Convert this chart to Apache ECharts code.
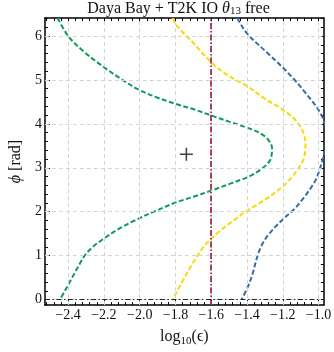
<!DOCTYPE html>
<html>
<head>
<meta charset="utf-8">
<script src="https://cdn.jsdelivr.net/npm/echarts@6/dist/echarts.min.js"></script>
<style>
  html, body { margin: 0; padding: 0; background: #fff; }
  #chart { width: 334px; height: 352px; }
</style>
</head>
<body>
<div id="chart"></div>
<script>
// axis ranges (Mathematica style padding around [-2.5,-1] x [0,2pi])
const xRange = [-2.53, -0.97];
const yRange = [-0.1257, 6.409];

// tick labels
const xTicks = [-2.4, -2.2, -2.0, -1.8, -1.6, -1.4, -1.2, -1.0];
const yTicks = [0, 1, 2, 3, 4, 5, 6];

// reference lines
const epsRef = -1.6;
const phiRef = 0;

// best fit point
const bestFit = [[-1.739, 3.306]];

// contour curves [log10(eps), phi]
const greenCurve = [
  [-2.459, 6.41], [-2.400, 6.00], [-2.314, 5.65], [-2.207, 5.31], [-2.100, 5.01],
  [-2.011, 4.79], [-1.903, 4.60], [-1.796, 4.45], [-1.689, 4.32], [-1.600, 4.19],
  [-1.493, 4.04], [-1.385, 3.89], [-1.323, 3.78], [-1.280, 3.63], [-1.260, 3.45],
  [-1.262, 3.30], [-1.274, 3.15], [-1.314, 2.99], [-1.385, 2.81], [-1.493, 2.64],
  [-1.600, 2.48], [-1.700, 2.34], [-1.805, 2.20], [-1.921, 2.00], [-2.028, 1.80],
  [-2.121, 1.60], [-2.196, 1.40], [-2.262, 1.20], [-2.308, 1.00], [-2.337, 0.80],
  [-2.364, 0.60], [-2.391, 0.40], [-2.418, 0.20], [-2.446, 0.0]
];
const yellowCurve = [
  [-1.814, 6.41], [-1.796, 6.25], [-1.707, 5.87], [-1.600, 5.40], [-1.502, 5.09],
  [-1.400, 4.86], [-1.296, 4.56], [-1.207, 4.34], [-1.127, 4.08], [-1.085, 3.80],
  [-1.073, 3.52], [-1.082, 3.22], [-1.110, 3.00], [-1.150, 2.78], [-1.198, 2.58],
  [-1.296, 2.28], [-1.400, 2.02], [-1.475, 1.80], [-1.540, 1.60], [-1.596, 1.40],
  [-1.643, 1.20], [-1.683, 0.96], [-1.719, 0.72], [-1.752, 0.48], [-1.784, 0.24],
  [-1.814, 0.0]
];
const blueCurve = [
  [-1.452, 6.41], [-1.448, 6.36], [-1.400, 6.06], [-1.296, 5.65], [-1.207, 5.31],
  [-1.136, 5.01], [-1.082, 4.75], [-1.010, 4.38], [-0.978, 4.15], [-0.958, 3.90],
  [-0.950, 3.70], [-0.958, 3.52], [-0.975, 3.22], [-1.010, 2.77], [-1.037, 2.58],
  [-1.082, 2.32], [-1.136, 2.06], [-1.198, 1.83], [-1.278, 1.49], [-1.320, 1.22],
  [-1.343, 0.97], [-1.368, 0.60], [-1.394, 0.30], [-1.430, 0.0]
];

const serif = 'Liberation Serif';
const chart = echarts.init(document.getElementById('chart'), null, { renderer: 'canvas' });

// minor ticks: 4 subdivisions of each major step
function minorTicks(major, range) {
  const step = (major[1] - major[0]) / 5;
  const out = [];
  for (let v = major[0] - step * 5; v <= range[1] + 1e-9; v += step) {
    if (v >= range[0] - 1e-9) out.push(+v.toFixed(4));
  }
  return out;
}
const xMinor = minorTicks(xTicks, xRange);
const yMinor = minorTicks(yTicks, yRange);

function frameAxis(pos, isX, values, len, withLine) {
  return {
    type: 'value',
    position: pos,
    min: isX ? xRange[0] : yRange[0],
    max: isX ? xRange[1] : yRange[1],
    axisLine: { show: withLine, onZero: false, lineStyle: { color: '#000', width: 1.5 } },
    axisTick: { show: true, inside: true, length: len, customValues: values, lineStyle: { color: '#000', width: 1 } },
    axisLabel: { show: false },
    splitLine: { show: false }
  };
}

const gridStyle = { color: '#d4d4d4', width: 1, type: [4, 3] };
const curveDash = [5, 2.5];

const sub = { fontFamily: serif, fontSize: 11, color: '#111', verticalAlign: 'bottom', lineHeight: 11 };

const option = {
  animation: false,
  title: {
    text: 'Daya Bay + T2K IO {it|θ}{sub|13} free',
    left: 178.5,
    top: 1,
    padding: 0,
    textAlign: 'center',
    textStyle: {
      fontFamily: serif, fontSize: 16, fontWeight: 'normal', color: '#111', lineHeight: 16,
      rich: {
        it: { fontFamily: serif, fontSize: 16, fontStyle: 'italic', color: '#111', lineHeight: 16 },
        sub: sub
      }
    }
  },
  grid: { left: 33, right: 10, top: 18, bottom: 43.7, containLabel: false },
  xAxis: [
    {
      type: 'value',
      position: 'bottom',
      min: xRange[0],
      max: xRange[1],
      name: '{t|log}{sub|10}{t|(ϵ)}',
      nameLocation: 'middle',
      nameGap: 16,
      nameTextStyle: {
        fontFamily: serif, fontSize: 16, color: '#111', lineHeight: 20,
        rich: { t: { fontFamily: serif, fontSize: 16, color: '#111', lineHeight: 20 }, sub: sub }
      },
      axisLine: { show: true, onZero: false, lineStyle: { color: '#000', width: 1.5 } },
      axisTick: { show: true, inside: true, length: 5, customValues: xTicks, lineStyle: { color: '#000', width: 1 } },
      axisLabel: {
        customValues: xTicks,
        margin: 3,
        fontFamily: serif,
        fontSize: 14,
        color: '#111',
        formatter: v => v.toFixed(1).replace('-', '\u2212')
      },
      splitLine: { show: false }
    },
    frameAxis('bottom', true, xMinor, 3, false),
    frameAxis('top', true, xTicks, 5, true),
    frameAxis('top', true, xMinor, 3, false)
  ],
  yAxis: [
    {
      type: 'value',
      position: 'left',
      min: yRange[0],
      max: yRange[1],
      name: '{it|ϕ} [rad]',
      nameLocation: 'middle',
      nameRotate: 90,
      nameGap: 15,
      nameTextStyle: {
        fontFamily: serif, fontSize: 16, color: '#111',
        rich: { it: { fontFamily: serif, fontSize: 16, fontStyle: 'italic', color: '#111' } }
      },
      axisLine: { show: true, onZero: false, lineStyle: { color: '#000', width: 1.5 } },
      axisTick: { show: true, inside: true, length: 5, customValues: yTicks, lineStyle: { color: '#000', width: 1 } },
      axisLabel: {
        customValues: yTicks,
        margin: 3,
        fontFamily: serif,
        fontSize: 14,
        color: '#111',
        formatter: v => String(v)
      },
      splitLine: { show: false }
    },
    frameAxis('left', false, yMinor, 3, false),
    frameAxis('right', false, yTicks, 5, true),
    frameAxis('right', false, yMinor, 3, false)
  ],
  series: [
    {
      // grid lines + reference lines
      type: 'line',
      data: [],
      z: 1,
      markLine: {
        silent: true,
        symbol: 'none',
        label: { show: false },
        animation: false,
        data: [
          ...xTicks.map(v => ({ xAxis: v, lineStyle: gridStyle })),
          ...yTicks.map(v => ({ yAxis: v, lineStyle: gridStyle })),
          { xAxis: epsRef, lineStyle: { color: '#8a0a30', width: 1.5, type: [6, 2, 1.5, 2] } },
          { yAxis: phiRef, lineStyle: { color: '#222', width: 1, type: [5, 2.5, 1.5, 2.5] } }
        ]
      }
    },
    {
      type: 'line', data: greenCurve, showSymbol: false, smooth: 0.35, z: 3,
      lineStyle: { color: '#11995a', width: 2, type: curveDash }
    },
    {
      type: 'line', data: yellowCurve, showSymbol: false, smooth: 0.35, z: 3,
      lineStyle: { color: '#f4da0c', width: 2, type: curveDash }
    },
    {
      type: 'line', data: blueCurve, showSymbol: false, smooth: 0.35, z: 3,
      lineStyle: { color: '#3a6aa6', width: 2, type: curveDash }
    },
    {
      type: 'scatter', data: bestFit, z: 4,
      symbol: 'path://M5.3,0H6.7V5.3H12V6.7H6.7V12H5.3V6.7H0V5.3H5.3Z',
      symbolSize: 13,
      itemStyle: { color: '#111' }
    }
  ]
};

chart.setOption(option);
</script>
</body>
</html>
